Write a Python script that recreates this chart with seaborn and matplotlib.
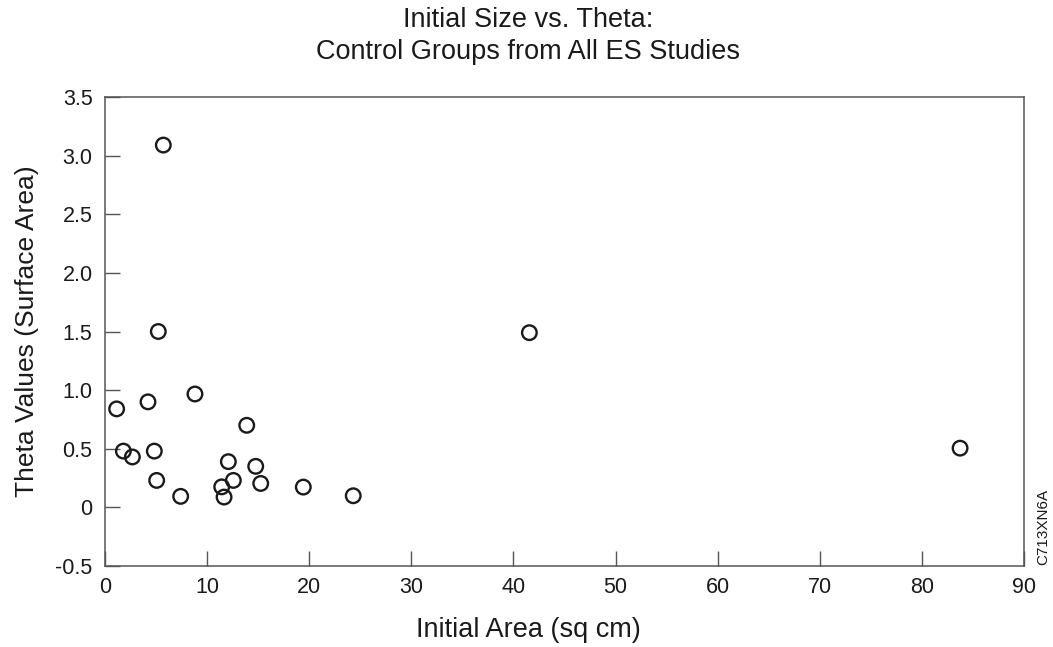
import matplotlib
matplotlib.use("Agg")
import matplotlib.pyplot as plt
import seaborn as sns
import pandas as pd

initial_area = [5.71, 5.22, 8.81, 1.14, 4.21, 13.88, 1.80, 2.68, 4.83, 12.08,
                14.76, 5.06, 12.57, 11.43, 15.25, 19.42, 7.41, 11.66, 24.31,
                41.56, 83.74]
theta = [3.09, 1.50, 0.967, 0.84, 0.90, 0.70, 0.48, 0.43, 0.48, 0.39,
         0.35, 0.23, 0.23, 0.175, 0.204, 0.173, 0.094, 0.088, 0.099,
         1.49, 0.505]

x_ticks = [0, 10, 20, 30, 40, 50, 60, 70, 80, 90]
y_ticks = [-0.5, 0, 0.5, 1.0, 1.5, 2.0, 2.5, 3.0, 3.5]
y_tick_labels = ["-0.5", "0", "0.5", "1.0", "1.5", "2.0", "2.5", "3.0", "3.5"]

df = pd.DataFrame({"area": initial_area, "theta": theta})

sns.set_theme(style="white")
plt.rcParams["font.family"] = ["Liberation Sans", "DejaVu Sans"]

fig = plt.figure(figsize=(10.53, 6.47), dpi=100)
ax = fig.add_axes([105 / 1053, 1 - 566 / 647, (1024 - 105) / 1053, (566 - 97) / 647])

sns.scatterplot(data=df, x="area", y="theta", ax=ax, s=110,
                facecolor="none", edgecolor="#1a1a1a", linewidth=1.7, legend=False)

ax.set_xlim(0, 90)
ax.set_ylim(-0.5, 3.5)
ax.set_xticks(x_ticks)
ax.set_yticks(y_ticks)
ax.set_yticklabels(y_tick_labels)
ax.tick_params(axis="both", which="major", bottom=True, left=True, direction="in",
               length=11, width=1.0, color="#555555",
               labelsize=15.5, labelcolor="#1a1a1a", pad=8)
ax.tick_params(axis="y", pad=9)
for sp in ax.spines.values():
    sp.set_color("#555555")
    sp.set_linewidth(1.1)
    sp.set_visible(True)

ax.set_xlabel("")
ax.set_ylabel("Theta Values (Surface Area)", fontsize=19, color="#1a1a1a", labelpad=12)
fig.text(528 / 1053, 1 - 630 / 647, "Initial Area (sq cm)", ha="center", va="center",
         fontsize=19.5, color="#1a1a1a")

fig.text(528 / 1053, 1 - 7 / 647, "Initial Size vs. Theta:\nControl Groups from All ES Studies",
         ha="center", va="top", fontsize=19.5, color="#1a1a1a", linespacing=1.32)
fig.text(1043 / 1053, 1 - 527 / 647, "C713XN6A", rotation=90, ha="center", va="center",
         fontsize=11, color="#1a1a1a")

fig.savefig("out.png", dpi=100)
